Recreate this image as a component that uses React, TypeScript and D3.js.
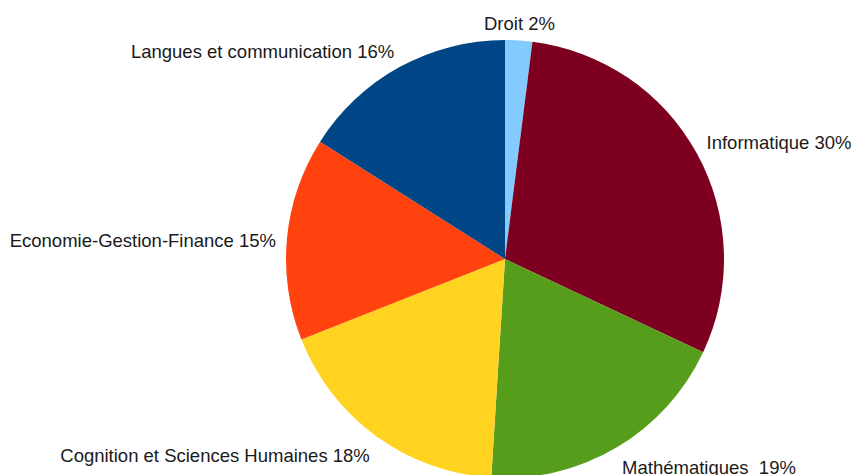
import React from "react";
import * as d3 from "d3";

const categories = [
  "Droit",
  "Informatique",
  "Mathématiques ",
  "Cognition et Sciences Humaines",
  "Economie-Gestion-Finance",
  "Langues et communication",
];
const values = [2, 30, 19, 18, 15, 16];
const colors = ["#83CAFF", "#7E0021", "#579D1C", "#FFD320", "#FF420E", "#004586"];

const W = 854;
const H = 475;
const CX = 505;
const CY = 259;
const R = 219;
const LABEL_R = 230;
const FONT = 18.5;
const ASC = FONT * 0.905;
const DESC = FONT * 0.212;

export default function App() {
  const pie = d3.pie<number>().sort(null).value((d) => d)(values);
  const arc = d3.arc<d3.PieArcDatum<number>>().innerRadius(0).outerRadius(R);
  const total = d3.sum(values);

  return (
    <svg width={W} height={H} style={{ position: "absolute", left: 0, top: 0, background: "#fff" }}>
      <g transform={`translate(${CX},${CY})`}>
        {pie.map((p, i) => (
          <path key={i} d={arc(p) || ""} fill={colors[i]} />
        ))}
        {pie.map((p, i) => {
          const a = (p.startAngle + p.endAngle) / 2;
          const s = Math.sin(a);
          const c = Math.cos(a);
          const px = LABEL_R * s;
          const py = -LABEL_R * c;
          const deg = (Math.atan2(c, Math.abs(s)) * 180) / Math.PI;
          let anchor: "start" | "middle" | "end" = s >= 0 ? "start" : "end";
          let baseline;
          if (Math.abs(s) < 0.38) anchor = "middle";
          if (deg > 22.5) baseline = py + 1;
          else if (deg < -22.5) baseline = py + ASC;
          else baseline = py + (ASC - DESC) / 2 + 3;
          const pct = Math.round((values[i] / total) * 100);
          return (
            <text
              key={"t" + i}
              x={px}
              y={baseline}
              textAnchor={anchor}
              fontFamily="'Liberation Sans', Arial, sans-serif"
              fontSize={FONT}
              fill="#1a1a1a"
              style={{ whiteSpace: "pre" }}
            >
              {`${categories[i]} ${pct}%`}
            </text>
          );
        })}
      </g>
    </svg>
  );
}
